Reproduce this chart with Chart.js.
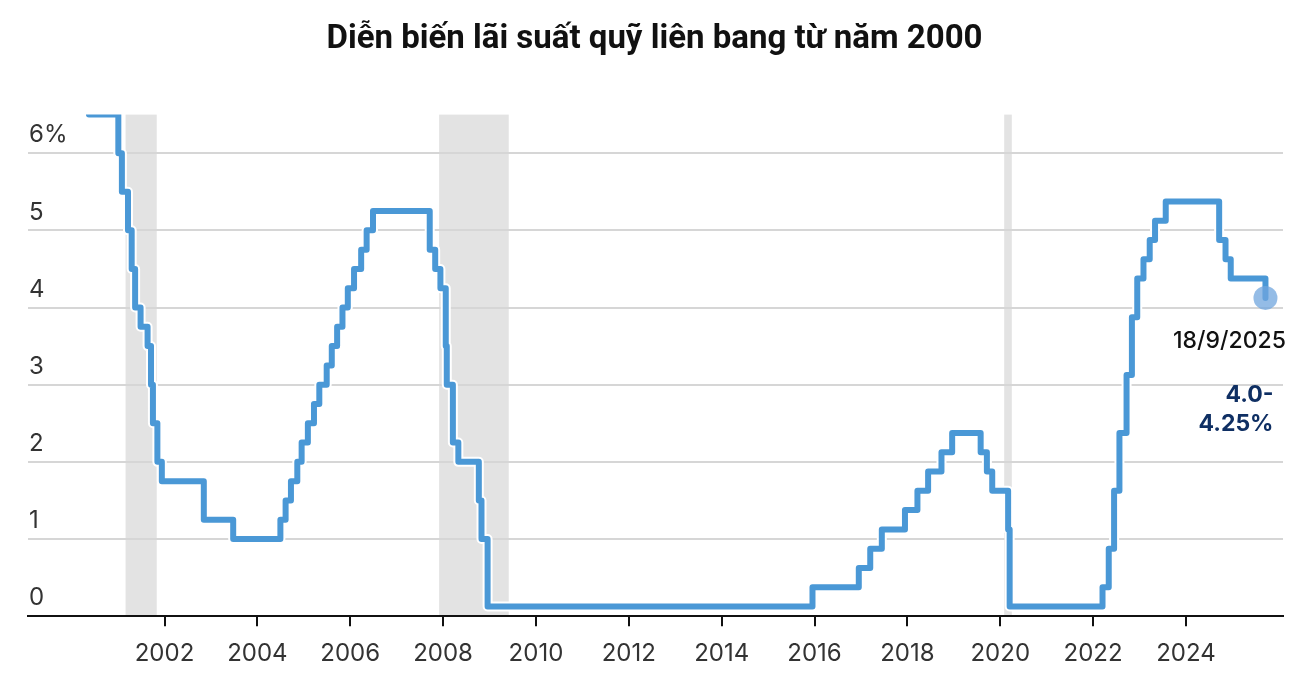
<!DOCTYPE html>
<html>
<head>
<meta charset="utf-8">
<script src="https://cdn.jsdelivr.net/npm/chart.js@4"></script>
<style>
  html, body { margin: 0; padding: 0; background: #fff; }
  #wrap { width: 1316px; height: 693px; position: relative; }
</style>
</head>
<body>
<div id="wrap"><canvas id="rateChart"></canvas></div>
<script>
// Fed funds target (midpoint of range after 12/2008), date of each change
var changeDates = [
  '2000-05-16', '2001-01-03', '2001-01-31', '2001-03-20', '2001-04-18', '2001-05-15',
  '2001-06-27', '2001-08-21', '2001-09-17', '2001-10-02', '2001-11-06', '2001-12-11',
  '2002-11-06', '2003-06-25', '2004-06-30', '2004-08-10', '2004-09-21', '2004-11-10',
  '2004-12-14', '2005-02-02', '2005-03-22', '2005-05-03', '2005-06-30', '2005-08-09',
  '2005-09-20', '2005-11-01', '2005-12-13', '2006-01-31', '2006-03-28', '2006-05-10',
  '2006-06-29', '2007-09-18', '2007-10-31', '2007-12-11', '2008-01-22', '2008-01-30',
  '2008-03-18', '2008-04-30', '2008-10-08', '2008-10-29', '2008-12-16', '2015-12-16',
  '2016-12-14', '2017-03-15', '2017-06-14', '2017-12-13', '2018-03-21', '2018-06-13',
  '2018-09-26', '2018-12-19', '2019-07-31', '2019-09-18', '2019-10-30', '2020-03-03',
  '2020-03-15', '2022-03-16', '2022-05-04', '2022-06-15', '2022-07-27', '2022-09-21',
  '2022-11-02', '2022-12-14', '2023-02-01', '2023-03-22', '2023-05-03', '2023-07-26',
  '2024-09-18', '2024-11-07', '2024-12-18', '2025-09-18'
];
var rates = [
  6.5, 6.0, 5.5, 5.0, 4.5, 4.0,
  3.75, 3.5, 3.0, 2.5, 2.0, 1.75,
  1.25, 1.0, 1.25, 1.5, 1.75, 2.0,
  2.25, 2.5, 2.75, 3.0, 3.25, 3.5,
  3.75, 4.0, 4.25, 4.5, 4.75, 5.0,
  5.25, 4.75, 4.5, 4.25, 3.5, 3.0,
  2.25, 2.0, 1.5, 1.0, 0.125, 0.375,
  0.625, 0.875, 1.125, 1.375, 1.625, 1.875,
  2.125, 2.375, 2.125, 1.875, 1.625, 1.125,
  0.125, 0.375, 0.875, 1.625, 2.375, 3.125,
  3.875, 4.375, 4.625, 4.875, 5.125, 5.375,
  4.875, 4.625, 4.375, 4.125
];

// recessions (grey bands)
var recessionStart = ['2001-03-01', '2007-12-01', '2020-02-01'];
var recessionEnd = ['2001-11-01', '2009-06-01', '2020-04-01'];

var tickYears = [2002, 2004, 2006, 2008, 2010, 2012, 2014, 2016, 2018, 2020, 2022, 2024];
var yTicks = [0, 1, 2, 3, 4, 5, 6];

var lastDateLabel = '18/9/2025';
var lastRateLabel = ['4.0-', '4.25%'];

function toYear(s) {
    var p = s.split('-').map(Number);
    var start = Date.UTC(p[0], 0, 1);
    var d = Date.UTC(p[0], p[1] - 1, p[2]);
    return p[0] + (d - start) / (365 * 86400000);
}

var points = changeDates.map((d, i) => ({ x: toYear(d), y: rates[i] }));
var lastIdx = points.length - 1;

var bandsPlugin = {
    id: 'bands',
    beforeDraw(chart) {
        var ctx = chart.ctx, xs = chart.scales.x, ys = chart.scales.y;
        ctx.save();
        ctx.fillStyle = '#e3e3e3';
        recessionStart.forEach((s, i) => {
            var x0 = xs.getPixelForValue(toYear(s));
            var x1 = xs.getPixelForValue(toYear(recessionEnd[i]));
            var top = ys.getPixelForValue(6.5), bottom = ys.getPixelForValue(0);
            ctx.fillRect(x0, top, x1 - x0, bottom - top);
        });
        ctx.restore();
    }
};

var notePlugin = {
    id: 'note',
    afterDraw(chart) {
        var ctx = chart.ctx;
        var pt = chart.getDatasetMeta(0).data[lastIdx];
        ctx.save();
        ctx.textBaseline = 'middle';
        ctx.fillStyle = '#111';
        ctx.font = '500 23px Inter';
        ctx.textAlign = 'center';
        ctx.fillText(lastDateLabel, pt.x - 36, pt.y + 43);
        ctx.fillStyle = '#0f2f63';
        ctx.font = '700 23px Inter';
        ctx.textAlign = 'right';
        ctx.fillText(lastRateLabel[0], pt.x + 8, pt.y + 97);
        ctx.fillText(lastRateLabel[1], pt.x + 8, pt.y + 126);
        ctx.restore();
    }
};

var CHART = new Chart(document.getElementById('rateChart'), {
    type: 'line',
    data: {
        datasets: [{
            data: points,
            stepped: 'before',
            borderColor: '#4a98d6',
            borderWidth: 6,
            borderJoinStyle: 'round',
            borderCapStyle: 'round',
            pointRadius: ctx => ctx.dataIndex === lastIdx ? 12 : 0,
            pointBackgroundColor: 'rgba(112,165,222,0.75)',
            pointBorderWidth: 0,
            order: 1
        }, {
            data: points,
            stepped: 'before',
            borderColor: '#ffffff',
            borderWidth: 10,
            borderJoinStyle: 'round',
            pointRadius: 0,
            order: 2
        }]
    },
    options: {
        responsive: true,
        maintainAspectRatio: false,
        animation: false,
        layout: { padding: { left: 26, right: 33, top: 0, bottom: 12 } },
        plugins: {
            legend: { display: false },
            tooltip: { enabled: false },
            title: {
                display: true,
                text: 'Diễn biến lãi suất quỹ liên bang từ năm 2000',
                color: '#111',
                font: { family: 'Roboto', size: 33, weight: '700' },
                padding: { top: 20, bottom: 55 }
            }
        },
        scales: {
            x: {
                type: 'linear',
                min: 1999.06,
                max: 2026.09,
                afterBuildTicks: scale => { scale.ticks = tickYears.map(v => ({ value: v })); },
                ticks: {
                    autoSkip: false,
                    maxRotation: 0,
                    padding: 13,
                    color: '#333',
                    font: { family: 'Inter', size: 24 },
                    callback: v => String(v)
                },
                grid: { drawOnChartArea: false, drawTicks: true, tickLength: 10, color: '#111', lineWidth: 2 },
                border: { display: true, color: '#111', width: 2 }
            },
            y: {
                min: 0,
                max: 6.5,
                afterBuildTicks: scale => { scale.ticks = yTicks.map(v => ({ value: v })); },
                ticks: {
                    mirror: true,
                    padding: 1,
                    labelOffset: -18,
                    color: '#333',
                    font: { family: 'Inter', size: 24 },
                    callback: v => v === 6 ? '6%' : String(v)
                },
                grid: { color: '#d6d6d6', lineWidth: 2, drawTicks: false },
                border: { display: false }
            }
        }
    },
    plugins: [bandsPlugin, notePlugin]
});
</script>
</body>
</html>
